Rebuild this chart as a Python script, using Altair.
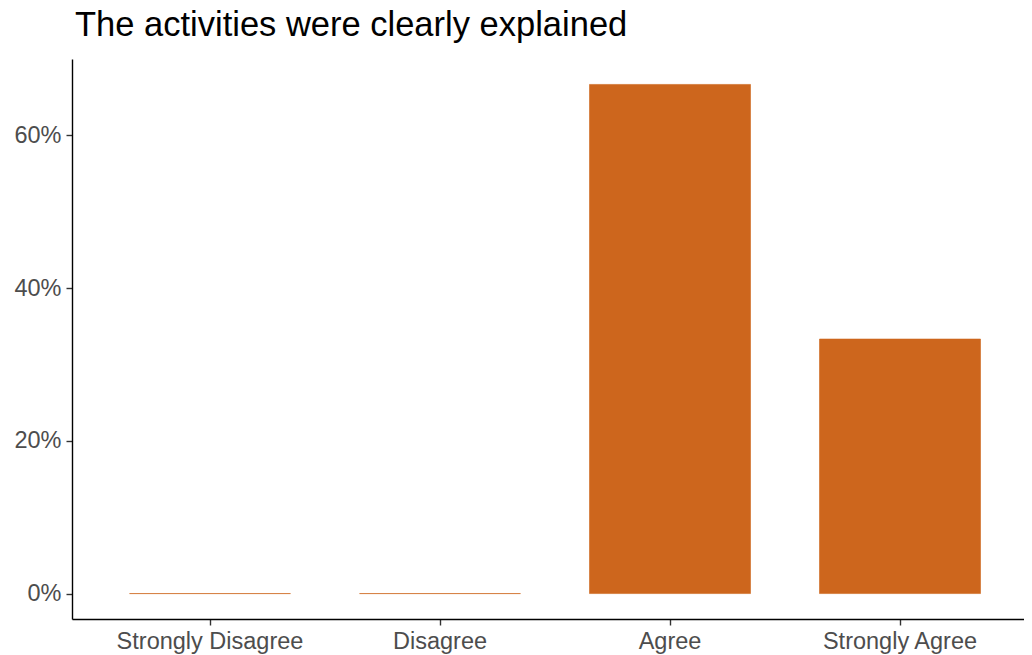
import altair as alt
import pandas as pd

categories = ["Strongly Disagree", "Disagree", "Agree", "Strongly Agree"]
shares = [0.0, 0.0, 0.6667, 0.3333]
title_text = "The activities were clearly explained"
y_ticks = [0.0, 0.2, 0.4, 0.6]

df = pd.DataFrame({"response": categories, "share": shares})

bars = alt.Chart(df).mark_bar(
    color="#CD661D", stroke="#CD661D", strokeWidth=0.6
).encode(
    x=alt.X("response:N", sort=categories, title=None,
            scale=alt.Scale(range=[0, 966], paddingInner=0.3, paddingOuter=0.25),
            axis=alt.Axis(labelAngle=0, labelFontSize=23.5, labelColor="#4D4D4D",
                          labelFont="Liberation Sans", tickColor="#333333",
                          tickSize=6, tickWidth=1.4, labelPadding=4, labelLimit=0,
                          domainColor="#000000", domainWidth=1.4)),
    y=alt.Y("share:Q", title=None,
            scale=alt.Scale(domain=[-0.0333, 0.70], nice=False, zero=False),
            axis=alt.Axis(values=y_ticks, format=".0%", labelFontSize=23.5,
                          labelColor="#4D4D4D", labelFont="Liberation Sans",
                          tickColor="#333333", tickSize=6, tickWidth=1.4,
                          labelPadding=5, domainColor="#000000", domainWidth=1.4,
                          grid=False)),
    y2=alt.datum(0),
)

chart = bars.properties(
    width=952, height=560,
    title=alt.Title(title_text, anchor="start", frame="group", fontSize=34.5,
                    fontWeight="normal", font="Liberation Sans", color="#000000",
                    offset=16, dx=3),
    autosize=alt.AutoSizeParams(type="none"),
    padding={"left": 64, "top": 51, "right": 0, "bottom": 40},
    background="white",
).configure_view(strokeWidth=0, stroke="transparent")

chart.save("out.html", embed_options={"renderer": "svg", "actions": False})
